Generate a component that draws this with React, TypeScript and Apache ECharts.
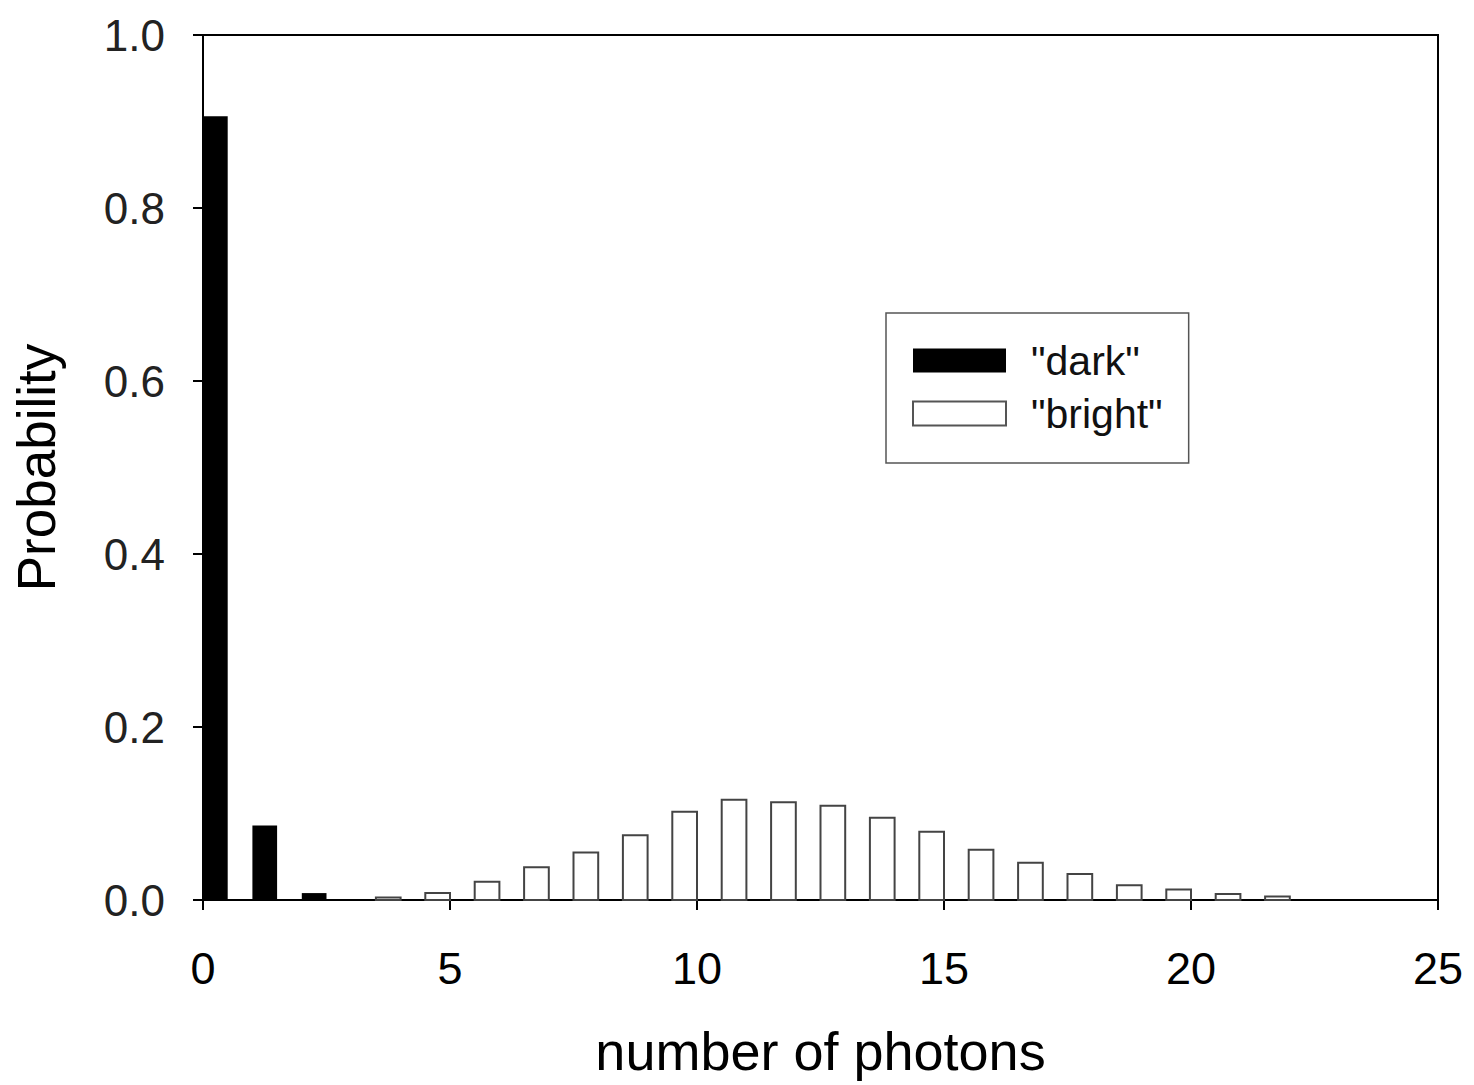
import React, { useEffect, useRef } from "react";
import * as echarts from "echarts";

const darkPhotons = [0, 1, 2];
const darkValues = [0.906, 0.086, 0.008];
const brightPhotons = [4, 5, 6, 7, 8, 9, 10, 11, 12, 13, 14, 15, 16, 17, 18, 19, 20, 21, 22];
const brightValues = [0.003, 0.008, 0.021, 0.038, 0.055, 0.075, 0.102, 0.116, 0.113, 0.109, 0.095, 0.079, 0.058, 0.043, 0.03, 0.017, 0.012, 0.007, 0.004];
const xTicks = [0, 5, 10, 15, 20, 25];
const yTicks = [0, 0.2, 0.4, 0.6, 0.8, 1.0];

const FONT = "'Liberation Sans', Arial, sans-serif";

export default function App() {
  const ref = useRef<HTMLDivElement>(null);
  useEffect(() => {
    if (!ref.current) return;
    const chart = echarts.init(ref.current, undefined, { renderer: "svg" });
    const barHalf = 0.5;
    const makeRender = (offset: number) => (params: any, api: any) => {
      const x = api.value(0);
      const v = api.value(1);
      const p0 = api.coord([x + offset, 0]);
      const p1 = api.coord([x + offset + barHalf, v]);
      return {
        type: "rect",
        shape: { x: p0[0], y: p1[1], width: p1[0] - p0[0], height: p0[1] - p1[1] },
        style: api.style(),
      };
    };
    chart.setOption({
      animation: false,
      backgroundColor: "#fff",
      grid: {
        left: 203,
        right: 36,
        top: 35,
        bottom: 185,
        show: true,
        borderColor: "#000",
        borderWidth: 2,
      },
      legend: {
        orient: "vertical",
        left: 886,
        top: 313,
        padding: [27, 26, 29, 26],
        itemGap: 12,
        itemWidth: 93,
        itemHeight: 24,
        borderColor: "#555",
        borderWidth: 1.5,
        borderRadius: 0,
        selectedMode: false,
        textStyle: { fontFamily: FONT, fontSize: 41, color: "#111", padding: [0, 0, 0, 20] },
        data: [
          { name: '"dark"', icon: "rect", itemStyle: { color: "#000", borderWidth: 0 } },
          { name: '"bright"', icon: "rect", itemStyle: { color: "#fff", borderColor: "#555", borderWidth: 2 } },
        ],
      },
      xAxis: {
        type: "value",
        min: 0,
        max: 25,
        interval: 5,
        name: "number of photons",
        nameLocation: "middle",
        nameGap: 124,
        nameTextStyle: { fontFamily: FONT, fontSize: 54, color: "#000" },
        axisLine: { show: true, lineStyle: { color: "#000", width: 2 } },
        axisTick: { show: true, inside: false, length: 10, lineStyle: { color: "#000", width: 2 } },
        axisLabel: {
          margin: 46,
          fontFamily: FONT,
          fontSize: 45,
          color: "#000",
          formatter: (v: number) => (xTicks.includes(v) ? String(v) : ""),
        },
        splitLine: { show: false },
      },
      yAxis: {
        type: "value",
        min: 0,
        max: 1,
        interval: 0.2,
        name: "Probability",
        nameLocation: "middle",
        nameGap: 140,
        nameTextStyle: { fontFamily: FONT, fontSize: 53, color: "#000" },
        axisLine: { show: true, lineStyle: { color: "#000", width: 2 } },
        axisTick: { show: true, inside: false, length: 10, lineStyle: { color: "#000", width: 2 } },
        axisLabel: {
          margin: 38,
          fontFamily: FONT,
          fontSize: 44,
          color: "#222",
          formatter: (v: number) => {
            const t = yTicks.find((y) => Math.abs(y - v) < 1e-9);
            return t === undefined ? "" : t.toFixed(1);
          },
        },
        splitLine: { show: false },
      },
      series: [
        {
          name: '"dark"',
          type: "custom",
          renderItem: makeRender(0),
          itemStyle: { color: "#000" },
          data: darkPhotons.map((x, i) => [x, darkValues[i]]),
          encode: { x: 0, y: 1 },
        },
        {
          name: '"bright"',
          type: "custom",
          renderItem: makeRender(-0.5),
          itemStyle: { color: "#fff", borderColor: "#444", borderWidth: 2 },
          data: brightPhotons.map((x, i) => [x, brightValues[i]]),
          encode: { x: 0, y: 1 },
        },
      ],
    });
    return () => chart.dispose();
  }, []);
  return (
    <div
      ref={ref}
      style={{ position: "absolute", left: 0, top: 0, width: 1474, height: 1085, background: "#fff" }}
    />
  );
}
